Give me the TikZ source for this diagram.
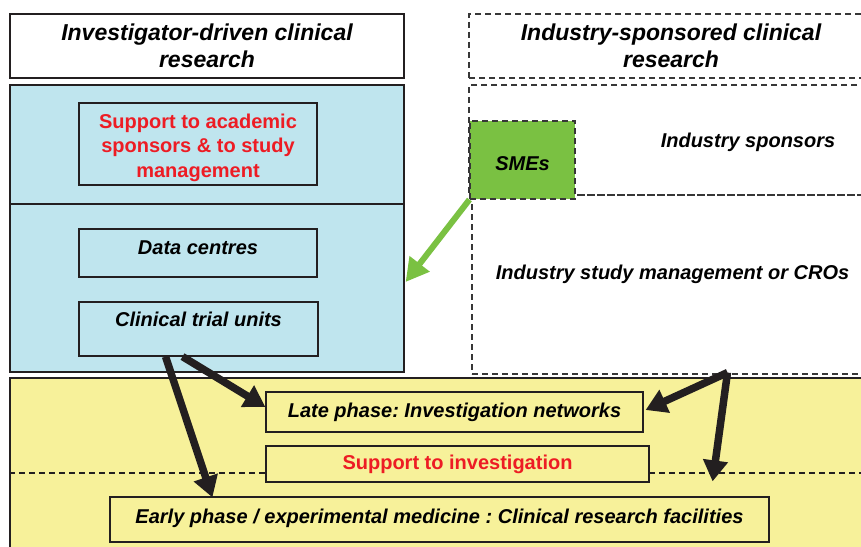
\documentclass[tikz,border=0pt]{standalone}
\usepackage{fontspec}
\setmainfont{Liberation Sans}
\usepackage{tikz}
\usetikzlibrary{arrows.meta, positioning, calc}
\definecolor{investblue}{RGB}{191,229,238}
\definecolor{supportyellow}{RGB}{247,241,154}
\definecolor{smegreen}{RGB}{122,193,66}
\definecolor{supportred}{RGB}{237,28,36}
\definecolor{framegray}{RGB}{35,31,32}
\definecolor{dashgray}{RGB}{55,55,55}
\frenchspacing

\begin{document}
\begin{tikzpicture}[
    x=1pt, y=-1pt,
    box/.style={draw=framegray, line width=1.2pt, inner sep=0pt, align=center, font=\fontsize{20}{24.5}\selectfont\bfseries\itshape},
    dashbox/.style={draw=dashgray, line width=1.1pt, dash pattern=on 6pt off 4pt, inner sep=0pt, align=center, font=\fontsize{20}{24.5}\selectfont\bfseries\itshape},
    header/.style={font=\fontsize{23}{27}\selectfont\bfseries\itshape},
    redtext/.style={text=supportred, font=\fontsize{20}{24.5}\selectfont\bfseries},
    arrow/.style={-{Triangle[length=21pt, width=24pt]}, line width=7.5pt, framegray},
    greenarrow/.style={-{Triangle[length=23pt, width=24pt]}, line width=6pt, smegreen}
]
    \clip (0,0) rectangle (861,546);
    \fill[white] (0,0) rectangle (861,546);

    % Headers
    \node[box, header, minimum width=394, minimum height=64] (invhead) at (207,46) {Investigator-driven clinical\\research};
    \node[dashbox, header, minimum width=404, minimum height=64] (indhead) at (671,46) {Industry-sponsored clinical\\research};

    % Academic side
    \node[box, fill=investblue, minimum width=394, minimum height=119] (acad) at (207,144.5) {};
    \node[box, fill=investblue, minimum width=394, minimum height=168] (ops) at (207,288) {};
    \node[box, redtext, minimum width=238, minimum height=82] (support) at (198,144) {\rule{0pt}{22pt}Support to academic\\sponsors \& to study\\management};
    \node[box, minimum width=238, minimum height=48, text height=15pt, text depth=13pt] (data) at (198,253) {Data centres};
    \node[box, minimum width=239, minimum height=54, text height=15pt, text depth=21pt] (ctu) at (198.5,329) {Clinical trial units};

    % Industry side
    \node[dashbox, minimum width=404, minimum height=110] (spons) at (671,140) {};
    \node[dashbox, minimum width=401, minimum height=179, text height=15pt, text depth=26pt] (cros) at (672.5,284.5) {Industry study management or CROs};
    \node[font=\fontsize{20}{24.5}\selectfont\bfseries\itshape] (sponstext) at (748,142) {Industry sponsors};
    \node[dashbox, fill=smegreen, minimum width=105, minimum height=78, text height=20pt, text depth=0pt] (smes) at (522.5,160) {SMEs};

    % Investigation layer
    \node[box, fill=supportyellow, minimum width=870, minimum height=182] (invest) at (445,469) {};
    \draw[framegray, line width=1.1pt, dash pattern=on 6pt off 4pt] (invest.west |- 0,473) -- (invest.east |- 0,473);
    \node[box, fill=supportyellow, minimum width=377, minimum height=40] (late) at (454.5,412) {Late phase: Investigation networks};
    \node[box, redtext, fill=supportyellow, minimum width=383, minimum height=36] (supinv) at (457.5,464) {Support to investigation};
    \node[box, fill=supportyellow, minimum width=659, minimum height=45, text height=15pt, text depth=8pt] (early) at (439.5,519.5) {Early phase / experimental medicine : Clinical research facilities};

    % Connections
    \coordinate (smein) at ($(ops.east)+(1,-6)$);
    \coordinate (crosout) at ($(cros.south)+(55,-2)$);
    \coordinate (earlyin) at ($(early.north east)+(-57,-15)$);
    \draw[greenarrow] (smes.south west) -- (smein);
    \draw[arrow] ($(ctu.south)+(-16,0)$) -- ($(late.west)+(0,-5)$);
    \draw[arrow] ($(ctu.south)+(-33,0)$) -- ($(early.north west)+(103,1)$);
    \draw[arrow] (crosout) -- ($(late.east)+(2,-2)$);
    \draw[arrow] (crosout) -- (earlyin);
\end{tikzpicture}
\end{document}
